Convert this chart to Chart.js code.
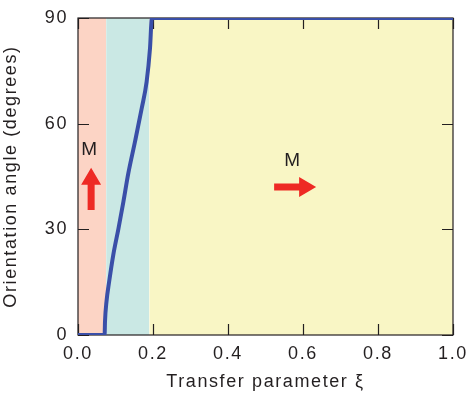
<!DOCTYPE html>
<html><head><meta charset="utf-8">
<script src="https://cdn.jsdelivr.net/npm/chart.js@4/dist/chart.umd.min.js"></script>
<style>html,body{margin:0;padding:0;background:#fff}#wrap{width:470px;height:397px}</style>
</head><body><div id="wrap"><canvas id="c" width="470" height="397"></canvas></div>
<script>
// Curve: orientation angle vs transfer parameter
const curveX = [0, 0.071, 0.072, 0.076, 0.083, 0.094, 0.108, 0.121, 0.134, 0.152, 0.170, 0.183, 0.192, 0.197, 1.0];
const curveY = [0, 0, 3.8, 9.5, 15.1, 22.7, 30.3, 37.8, 45.8, 54.9, 64.4, 71.9, 81.4, 90, 90];
// Shaded regions (x ranges)
const regionStart = [0, 0.075, 0.19];
const regionEnd = [0.075, 0.19, 1.0];
const regionColors = ['#FCD4C5', '#CAE8E4', '#F9F6C5'];
// Tick values
const xTicks = [0, 0.2, 0.4, 0.6, 0.8, 1.0];
const yTicks = [0, 30, 60, 90];
// Magnetization arrows [x0, y0, x1, y1] and labels [x, y, text]
const arrows = [[0.035, 35.5, 0.035, 47.5], [0.523, 42, 0.635, 42]];
const arrowLabels = [[0.032, 52.5, 'M'], [0.573, 49.5, 'M']];

const txt = '#231F20';
const FONT = '"Liberation Sans", Arial, sans-serif';
const SPACING = '1.6px';
const curveData = curveX.map((x, i) => ({x, y: curveY[i]}));
const datasets = [{
  data: curveData, borderColor: '#3A4FA8', borderWidth: 4, pointRadius: 0,
  cubicInterpolationMode: 'monotone', fill: false, borderJoinStyle: 'round'
}];
regionStart.forEach((s, i) => {
  datasets.push({
    data: [{x: s, y: 90}, {x: regionEnd[i], y: 90}],
    borderWidth: 0, borderColor: 'rgba(0,0,0,0)', pointRadius: 0,
    backgroundColor: regionColors[i], fill: 'start'
  });
});

const spacingPlugin = {
  id: 'spacing',
  beforeUpdate(chart) { chart.ctx.letterSpacing = SPACING; },
  beforeLayout(chart) { chart.ctx.letterSpacing = SPACING; },
  beforeDraw(chart) { chart.ctx.letterSpacing = SPACING; }
};

const framePlugin = {
  id: 'frame',
  afterDatasetDraw(chart, args) {
    if (args.index !== 1) return;
    const {ctx, chartArea: a, scales: {x, y}} = chart;
    ctx.save();
    ctx.strokeStyle = '#231F20';
    ctx.lineWidth = 1.2;
    ctx.strokeRect(a.left, a.top, a.right - a.left, a.bottom - a.top);
    const L = 11;
    ctx.beginPath();
    xTicks.forEach(v => {
      const px = Math.round(x.getPixelForValue(v)) + 0.5;
      ctx.moveTo(px, a.bottom); ctx.lineTo(px, a.bottom - L);
      ctx.moveTo(px, a.top); ctx.lineTo(px, a.top + L);
    });
    yTicks.forEach(v => {
      const py = Math.round(y.getPixelForValue(v)) + 0.5;
      ctx.moveTo(a.left, py); ctx.lineTo(a.left + L, py);
      ctx.moveTo(a.right, py); ctx.lineTo(a.right - L, py);
    });
    ctx.stroke();
    ctx.restore();
  },
  afterDatasetsDraw(chart) {
    const {ctx, scales: {x, y}} = chart;
    ctx.save();
    ctx.fillStyle = '#EE2A24';
    arrows.forEach(([x0, y0, x1, y1]) => {
      const p0 = [x.getPixelForValue(x0), y.getPixelForValue(y0)];
      const p1 = [x.getPixelForValue(x1), y.getPixelForValue(y1)];
      const dx = p1[0] - p0[0], dy = p1[1] - p0[1];
      const len = Math.hypot(dx, dy);
      const ux = dx / len, uy = dy / len, nx = -uy, ny = ux;
      const head = 17, hw = 10, sw = 3.5;
      const b = [p1[0] - ux * head, p1[1] - uy * head];
      ctx.beginPath();
      ctx.moveTo(p0[0] + nx * sw, p0[1] + ny * sw);
      ctx.lineTo(b[0] + nx * sw, b[1] + ny * sw);
      ctx.lineTo(b[0] + nx * hw, b[1] + ny * hw);
      ctx.lineTo(p1[0], p1[1]);
      ctx.lineTo(b[0] - nx * hw, b[1] - ny * hw);
      ctx.lineTo(b[0] - nx * sw, b[1] - ny * sw);
      ctx.lineTo(p0[0] - nx * sw, p0[1] - ny * sw);
      ctx.closePath();
      ctx.fill();
    });
    ctx.fillStyle = txt;
    ctx.font = '19px ' + FONT;
    ctx.textAlign = 'center'; ctx.textBaseline = 'middle';
    arrowLabels.forEach(([lx, ly, t]) => ctx.fillText(t, x.getPixelForValue(lx), y.getPixelForValue(ly)));
    ctx.restore();
  }
};

new Chart(document.getElementById('c'), {
  type: 'line',
  data: {datasets},
  options: {
    responsive: false, animation: false,
    layout: {padding: {top: 18, right: 17, left: 0, bottom: 0}},
    plugins: {legend: {display: false}, tooltip: {enabled: false}},
    scales: {
      x: {
        type: 'linear', min: 0, max: 1,
        afterBuildTicks: s => { s.ticks = xTicks.map(v => ({value: v})); },
        afterFit: s => { s.height = 62; s.paddingRight = 0; s.paddingLeft = 0; },
        grid: {display: false, drawTicks: false},
        border: {display: false},
        ticks: {padding: 8, color: txt, font: {size: 18, family: FONT}, callback: v => v.toFixed(1), maxRotation: 0},
        title: {display: true, text: 'Transfer parameter ξ', color: txt, font: {size: 18, family: FONT}, padding: {top: 4}}
      },
      y: {
        min: 0, max: 90,
        afterBuildTicks: s => { s.ticks = yTicks.map(v => ({value: v})); },
        afterFit: s => { s.width = 78; s.paddingTop = 0; s.paddingBottom = 0; },
        grid: {display: false, drawTicks: false},
        border: {display: false},
        ticks: {padding: 10, color: txt, font: {size: 18, family: FONT}},
        title: {display: true, text: 'Orientation angle (degrees)', color: txt, font: {size: 18, family: FONT}, padding: {bottom: 0, top: 0}}
      }
    }
  },
  plugins: [spacingPlugin, framePlugin]
});
</script></body></html>
